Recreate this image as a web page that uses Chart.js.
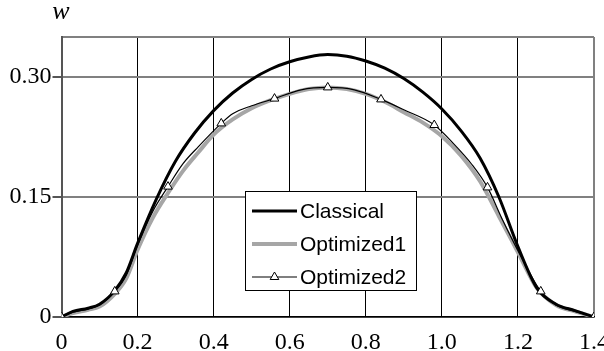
<!DOCTYPE html>
<html>
<head>
<meta charset="utf-8">
<script src="https://cdn.jsdelivr.net/npm/chart.js@4"></script>
<style>
    body { margin: 0; background: #fff; }
</style>
</head>
<body>
<canvas id="chart" width="604" height="351"></canvas>
<script>
const xTicks = [0, 0.2, 0.4, 0.6, 0.8, 1.0, 1.2, 1.4];
const yTicks = [0, 0.15, 0.30, 0.35];

const classicalX = [0, 0.03, 0.07, 0.10, 0.14, 0.17, 0.20, 0.25, 0.30, 0.35, 0.40, 0.45, 0.50, 0.55, 0.60, 0.65, 0.70, 0.75, 0.80, 0.85, 0.90, 0.95, 1.00, 1.05, 1.10, 1.15, 1.20, 1.25, 1.30, 1.35, 1.40];
const classicalY = [0, 0.007, 0.011, 0.016, 0.033, 0.055, 0.092, 0.148, 0.195, 0.230, 0.258, 0.280, 0.297, 0.310, 0.319, 0.325, 0.328, 0.326, 0.320, 0.311, 0.298, 0.281, 0.260, 0.233, 0.199, 0.150, 0.088, 0.036, 0.016, 0.008, 0];

const opt1X = [0, 0.03, 0.07, 0.10, 0.14, 0.17, 0.20, 0.24, 0.28, 0.32, 0.36, 0.40, 0.45, 0.50, 0.55, 0.60, 0.65, 0.70, 0.75, 0.80, 0.85, 0.90, 0.95, 1.00, 1.05, 1.10, 1.15, 1.20, 1.25, 1.30, 1.35, 1.40];
const opt1Y = [0, 0.005, 0.009, 0.013, 0.029, 0.048, 0.084, 0.124, 0.155, 0.183, 0.206, 0.228, 0.247, 0.261, 0.271, 0.279, 0.285, 0.287, 0.285, 0.279, 0.269, 0.256, 0.243, 0.226, 0.202, 0.170, 0.126, 0.081, 0.036, 0.015, 0.007, 0];

const opt2X = [0, 0.03, 0.07, 0.10, 0.14, 0.17, 0.20, 0.24, 0.28, 0.32, 0.36, 0.42, 0.45, 0.50, 0.56, 0.63, 0.70, 0.77, 0.84, 0.90, 0.98, 1.03, 1.08, 1.12, 1.16, 1.20, 1.26, 1.30, 1.35, 1.40];
const opt2Y = [0, 0.006, 0.010, 0.015, 0.032, 0.052, 0.090, 0.132, 0.163, 0.192, 0.213, 0.242, 0.254, 0.264, 0.273, 0.284, 0.287, 0.284, 0.272, 0.259, 0.240, 0.217, 0.190, 0.162, 0.121, 0.083, 0.032, 0.015, 0.007, 0];
const opt2MarkerX = [0, 0.14, 0.28, 0.42, 0.56, 0.70, 0.84, 0.98, 1.12, 1.26, 1.40];

const seriesNames = ["Classical", "Optimized1", "Optimized2"];

const toPoints = (xs, ys) => xs.map((x, i) => ({ x: x, y: ys[i] }));

function triangle(ctx, x, y, r) {
    ctx.beginPath();
    ctx.moveTo(x, y - r);
    ctx.lineTo(x + r * 0.866, y + r * 0.5);
    ctx.lineTo(x - r * 0.866, y + r * 0.5);
    ctx.closePath();
    ctx.fillStyle = "#fff";
    ctx.fill();
    ctx.strokeStyle = "#000";
    ctx.lineWidth = 1;
    ctx.stroke();
}

// legend box inside the plot + the "w" axis title
const extras = {
    id: "extras",
    afterDraw(chart) {
        const ctx = chart.ctx;
        ctx.save();
        ctx.font = "italic 26px 'Liberation Serif'";
        ctx.fillStyle = "#000";
        ctx.textAlign = "center";
        ctx.textBaseline = "middle";
        ctx.fillText("w", 61, 12);

        ctx.fillStyle = "#fff";
        ctx.fillRect(245.5, 191.5, 171, 99);
        ctx.strokeStyle = "#000";
        ctx.lineWidth = 1;
        ctx.strokeRect(245.5, 191.5, 171, 99);

        const rows = [211, 244, 277];
        chart.data.datasets.forEach((ds, i) => {
            const y = rows[i];
            ctx.beginPath();
            ctx.moveTo(252, y);
            ctx.lineTo(297, y);
            ctx.strokeStyle = ds.borderColor;
            ctx.lineWidth = ds.borderWidth;
            ctx.stroke();
            if (i === 2) triangle(ctx, 274.5, y, 5);
            ctx.fillStyle = "#000";
            ctx.font = "21px 'Liberation Sans', Arial";
            ctx.textAlign = "left";
            ctx.textBaseline = "middle";
            ctx.fillText(ds.label, 300, y + 1);
        });
        ctx.restore();
    }
};

new Chart(document.getElementById("chart"), {
    type: "line",
    data: {
        datasets: [
            {
                label: seriesNames[0],
                data: toPoints(classicalX, classicalY),
                borderColor: "#000",
                borderWidth: 3,
                pointRadius: 0,
                cubicInterpolationMode: "monotone",
                order: 1
            },
            {
                label: seriesNames[1],
                data: toPoints(opt1X, opt1Y),
                borderColor: "#a6a6a6",
                borderWidth: 4,
                pointRadius: 0,
                cubicInterpolationMode: "monotone",
                order: 2
            },
            {
                label: seriesNames[2],
                data: toPoints(opt2X, opt2Y),
                borderColor: "#000",
                borderWidth: 1.2,
                pointStyle: "triangle",
                pointRadius: ctx => opt2MarkerX.includes(ctx.raw.x) ? 5 : 0,
                pointBackgroundColor: "#fff",
                pointBorderColor: "#000",
                pointBorderWidth: 1,
                cubicInterpolationMode: "monotone",
                order: 0
            }
        ]
    },
    options: {
        responsive: false,
        animation: false,
        layout: { padding: { top: 37, right: 10, left: 0, bottom: 0 } },
        plugins: { legend: { display: false }, tooltip: { enabled: false } },
        scales: {
            x: {
                type: "linear",
                min: 0,
                max: 1.4,
                afterBuildTicks: scale => { scale.ticks = xTicks.map(v => ({ value: v })); },
                afterFit: scale => { scale.height = 34; scale.paddingLeft = 0; scale.paddingRight = 0; },
                ticks: {
                    font: { family: "'Liberation Serif'", size: 24 },
                    color: "#000",
                    padding: 11,
                    maxRotation: 0,
                    callback: v => v === 0 ? "0" : v.toFixed(1)
                },
                grid: {
                    color: ctx => ctx.tick && ctx.tick.value === 1.4 ? "#808080" : "#000",
                    lineWidth: ctx => ctx.tick && ctx.tick.value === 1.4 ? 2 : 1,
                    drawTicks: false
                },
                border: { color: "#000", width: 1.5 }
            },
            y: {
                min: 0,
                max: 0.35,
                afterBuildTicks: scale => { scale.ticks = yTicks.map(v => ({ value: v })); },
                afterFit: scale => { scale.width = 61.5; },
                ticks: {
                    font: { family: "'Liberation Serif'", size: 24 },
                    color: "#000",
                    padding: 1,
                    callback: v => v === 0 ? "0" : (v === 0.35 ? "" : v.toFixed(2))
                },
                grid: {
                    color: "#808080",
                    lineWidth: 2,
                    tickLength: 9,
                    tickColor: ctx => ctx.tick && ctx.tick.value === 0.35 ? "rgba(0,0,0,0)" : "#555"
                },
                border: { color: "#555", width: 2 }
            }
        }
    },
    plugins: [extras]
});
</script>
</body>
</html>
